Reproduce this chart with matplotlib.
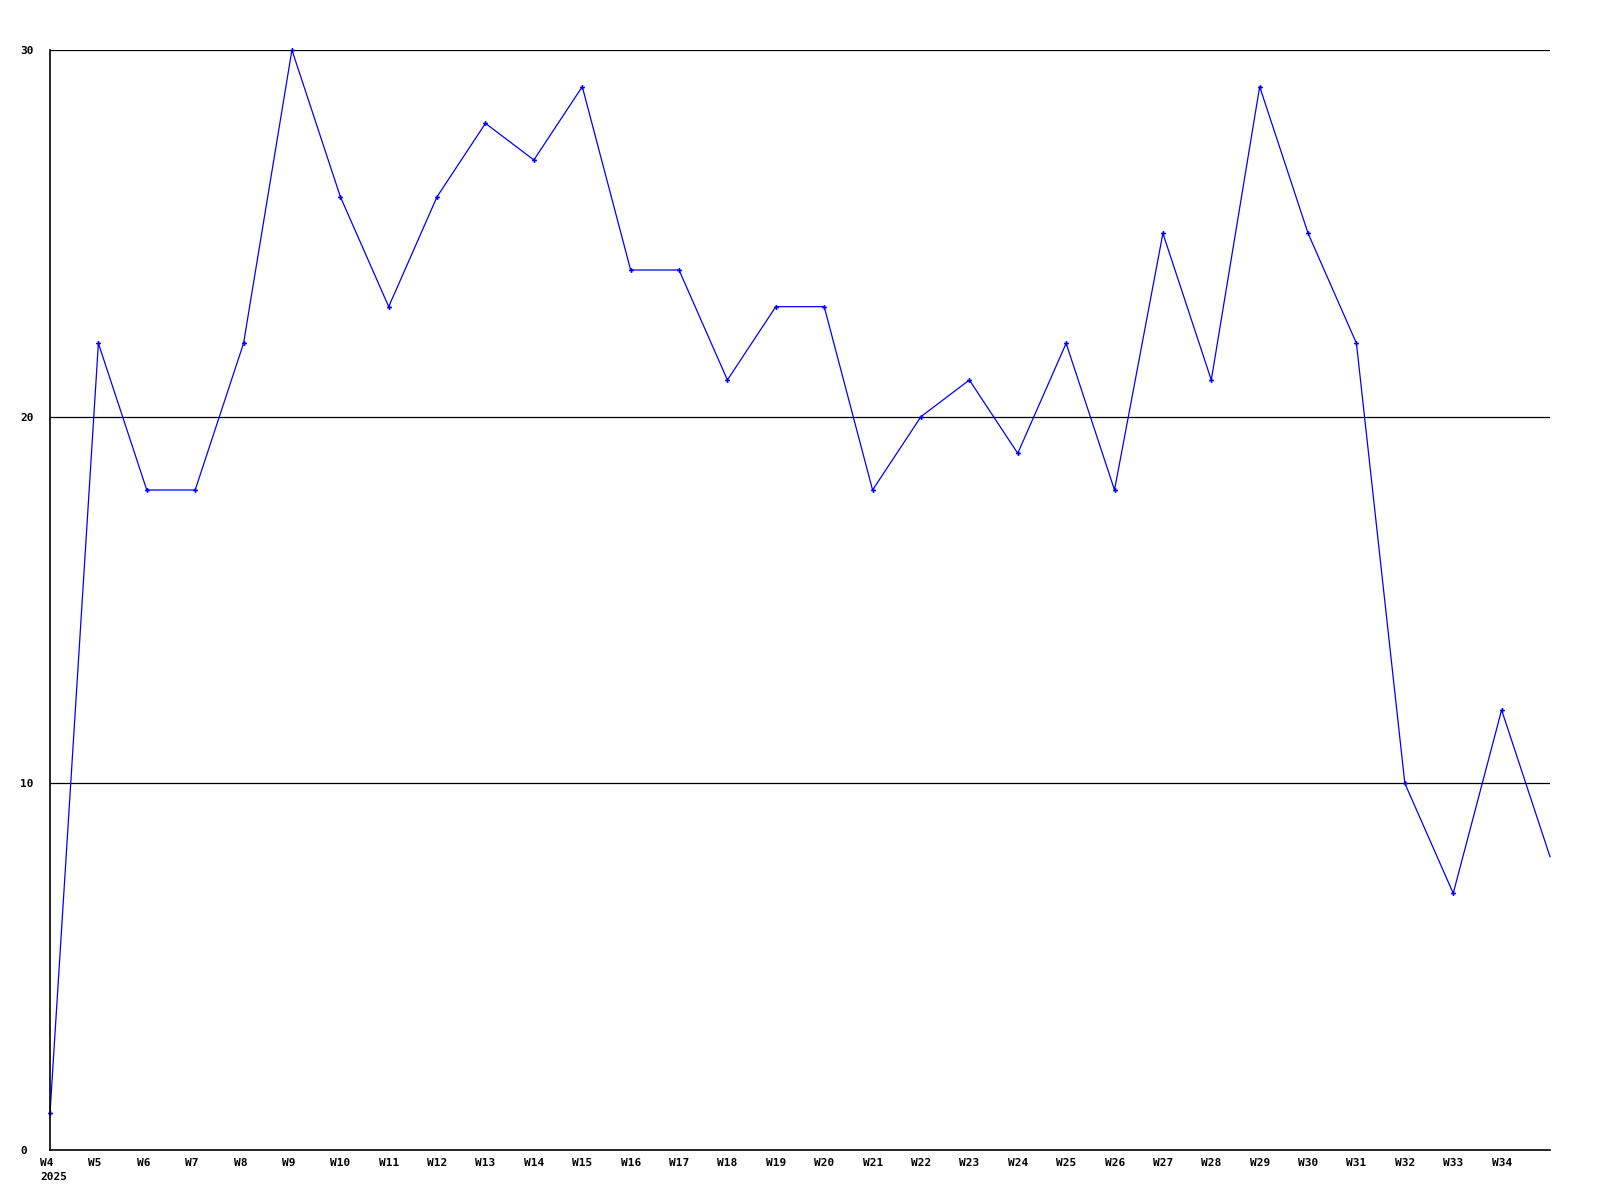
import matplotlib
matplotlib.use("Agg")
import matplotlib.pyplot as plt
import matplotlib.transforms as mtransforms

# weekly values, W4 .. W35 (W35 sits on the right edge, no label)
weeks = ["W%d" % w for w in range(4, 36)]
values = [1, 22, 18, 18, 22, 30, 26, 23, 26, 28, 27, 29, 24, 24, 21, 23,
          23, 18, 20, 21, 19, 22, 18, 25, 21, 29, 25, 22, 10, 7, 12, 8]
tick_labels = ["W4\n2025"] + weeks[1:-1]
y_ticks = [0, 10, 20, 30]

fig = plt.figure(figsize=(16, 12), dpi=100)
ax = fig.add_axes([50/1600, 50/1200, 1500/1600, 1100/1200])

x = list(range(len(values)))
ax.plot(x, values, color="#0000ff", lw=0.9, marker="P", ms=3.5,
        markeredgewidth=0, markevery=list(range(len(values) - 1)),
        clip_on=False)

ax.set_xlim(0, len(values) - 1)
ax.set_ylim(0, 30)
for v in y_ticks[1:]:
    ax.axhline(v, color="black", lw=0.9, zorder=0)

for s in ["top", "right"]:
    ax.spines[s].set_visible(False)
for s in ["left", "bottom"]:
    ax.spines[s].set_linewidth(1.2)

font = dict(family="DejaVu Sans Mono", weight="bold", size=8)
ax.set_xticks(x[:-1])
ax.set_xticklabels(tick_labels, ha="left", multialignment="left",
                   linespacing=1.5, **font)
ax.set_yticks(y_ticks)
ax.set_yticklabels([str(v) for v in y_ticks], ha="left", **font)
ax.tick_params(axis="x", length=0, pad=6)
ax.tick_params(axis="y", length=0, pad=21.6)

shift = mtransforms.ScaledTranslation(-10/100, 0, fig.dpi_scale_trans)
for lab in ax.get_xticklabels():
    lab.set_transform(lab.get_transform() + shift)

fig.savefig("out.png", dpi=100, facecolor="white")
